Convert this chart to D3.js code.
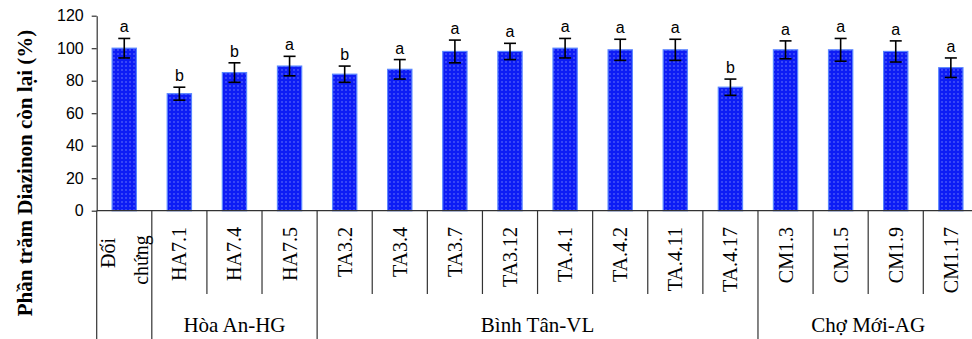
<!DOCTYPE html>
<html>
<head>
<meta charset="utf-8">
<script src="https://cdn.jsdelivr.net/npm/d3@7"></script>
<style>
  html, body { margin: 0; padding: 0; background: #fff; }
  svg { display: block; }
</style>
</head>
<body>
<svg id="chart" width="972" height="339"></svg>
<script>
// Isolates and their remaining Diazinon (%), with standard error and significance letters
const categories = ["Đối chứng", "HA7.1", "HA7.4", "HA7.5", "TA3.2", "TA3.4", "TA3.7", "TA3.12",
                    "TA.4.1", "TA.4.2", "TA.4.11", "TA.4.17", "CM1.3", "CM1.5", "CM1.9", "CM1.17"];
const values   = [100, 72, 85, 89, 84, 87, 98, 98, 100, 99, 99, 76, 99, 99, 98, 88];
const errors   = [6, 4, 6, 6, 5, 6, 7, 5, 6, 6.5, 6.5, 5, 5.5, 7, 6.5, 6];
const letters  = ["a", "b", "b", "a", "b", "a", "a", "a", "a", "a", "a", "b", "a", "a", "a", "a"];
const yTicks   = [0, 20, 40, 60, 80, 100, 120];

// Sampling sites: first and last category of each group
const groups = [
  { name: "Hòa An-HG",   from: "HA7.1", to: "HA7.5" },
  { name: "Bình Tân-VL", from: "TA3.2", to: "TA.4.17" },
  { name: "Chợ Mới-AG",  from: "CM1.3", to: "CM1.17" }
];

const svg = d3.select("#chart");
const plotLeft = 96.7, plotRight = 978.4, plotTop = 15.7, plotBase = 210.7;

const x = d3.scaleBand().domain(categories).range([plotLeft, plotRight]).padding(0);
const y = d3.scaleLinear().domain([0, 120]).range([plotBase, plotTop]);
const barW = x.bandwidth() * 0.44;

// Dotted blue fill for the bars
const defs = svg.append("defs");
const pat = defs.append("pattern")
  .attr("id", "dots").attr("patternUnits", "userSpaceOnUse")
  .attr("width", 4).attr("height", 4);
pat.append("rect").attr("width", 4).attr("height", 4).attr("fill", "#0d1cf5");
pat.append("rect").attr("x", 1.5).attr("y", 1.5).attr("width", 1).attr("height", 1).attr("fill", "#b9c4ff");

// Bars
svg.append("g").selectAll("rect")
  .data(categories)
  .join("rect")
  .attr("x", d => x(d) + (x.bandwidth() - barW) / 2)
  .attr("y", (d, i) => y(values[i]))
  .attr("width", barW)
  .attr("height", (d, i) => y(0) - y(values[i]))
  .attr("fill", "url(#dots)")
  .attr("stroke", "#5a86ff")
  .attr("stroke-width", 1.2);

// Error bars
const eb = svg.append("g").attr("stroke", "#000").attr("stroke-width", 1.6);
categories.forEach((c, i) => {
  const cx = x(c) + x.bandwidth() / 2;
  const hi = y(values[i] + errors[i]), lo = y(values[i] - errors[i]);
  eb.append("line").attr("x1", cx).attr("x2", cx).attr("y1", hi).attr("y2", lo);
  eb.append("line").attr("x1", cx - 6).attr("x2", cx + 6).attr("y1", hi).attr("y2", hi);
  eb.append("line").attr("x1", cx - 6).attr("x2", cx + 6).attr("y1", lo).attr("y2", lo);
});

// Significance letters
svg.append("g").selectAll("text")
  .data(categories)
  .join("text")
  .attr("x", d => x(d) + x.bandwidth() / 2)
  .attr("y", (d, i) => y(values[i] + errors[i]) - 6)
  .attr("text-anchor", "middle")
  .attr("font-family", "Arial, 'Liberation Sans', sans-serif")
  .attr("font-size", 16)
  .attr("fill", "#000")
  .text((d, i) => letters[i]);

// Y axis
const yAxis = svg.append("g")
  .attr("transform", `translate(${plotLeft},0)`)
  .call(d3.axisLeft(y).tickValues(yTicks).tickSize(5).tickSizeOuter(0).tickPadding(8));
yAxis.select(".domain").attr("stroke", "#333").attr("stroke-width", 1.2);
yAxis.selectAll(".tick line").attr("stroke", "#333").attr("stroke-width", 1.2);
yAxis.selectAll(".tick text")
  .attr("font-family", "Arial, 'Liberation Sans', sans-serif")
  .attr("font-size", 16).attr("fill", "#000");

// Y axis title
svg.append("text")
  .attr("transform", `translate(32,${(30 + 316) / 2}) rotate(-90)`)
  .attr("text-anchor", "middle")
  .attr("font-family", "'Liberation Serif', 'Times New Roman', serif")
  .attr("font-weight", "bold")
  .attr("font-size", 21)
  .attr("fill", "#000")
  .text("Phần trăm Diazinon còn lại (%)");

// X baseline and category separators
const grid = svg.append("g").attr("stroke", "#333").attr("stroke-width", 1.2);
grid.append("line").attr("x1", plotLeft).attr("x2", plotRight).attr("y1", plotBase).attr("y2", plotBase);
const groupStarts = groups.map(g => g.from);
categories.forEach(c => {
  const isGroupEdge = c === categories[0] || groupStarts.includes(c);
  grid.append("line")
    .attr("x1", x(c)).attr("x2", x(c))
    .attr("y1", plotBase).attr("y2", isGroupEdge ? 339 : 294);
});

// Category labels (rotated)
const serif = "'Liberation Serif', 'Times New Roman', serif";
const catG = svg.append("g");
categories.forEach(c => {
  const cx = x(c) + x.bandwidth() / 2;
  if (c === "Đối chứng") {
    const parts = c.split(" ");
    catG.append("text")
      .attr("transform", `translate(${cx - 9},253) rotate(-90)`)
      .attr("text-anchor", "middle").attr("font-family", serif).attr("font-size", 20)
      .text(parts[0]);
    catG.append("text")
      .attr("transform", `translate(${cx + 24},260) rotate(-90)`)
      .attr("text-anchor", "middle").attr("font-family", serif).attr("font-size", 20)
      .text(parts[1]);
  } else {
    catG.append("text")
      .attr("transform", `translate(${cx + 7},227) rotate(-90)`)
      .attr("text-anchor", "end").attr("font-family", serif).attr("font-size", 20)
      .text(c);
  }
});

// Group labels
groups.forEach(g => {
  const x0 = x(g.from), x1 = x(g.to) + x.bandwidth();
  svg.append("text")
    .attr("x", (x0 + x1) / 2).attr("y", 332)
    .attr("text-anchor", "middle")
    .attr("font-family", serif).attr("font-size", 21)
    .text(g.name);
});
</script>
</body>
</html>
